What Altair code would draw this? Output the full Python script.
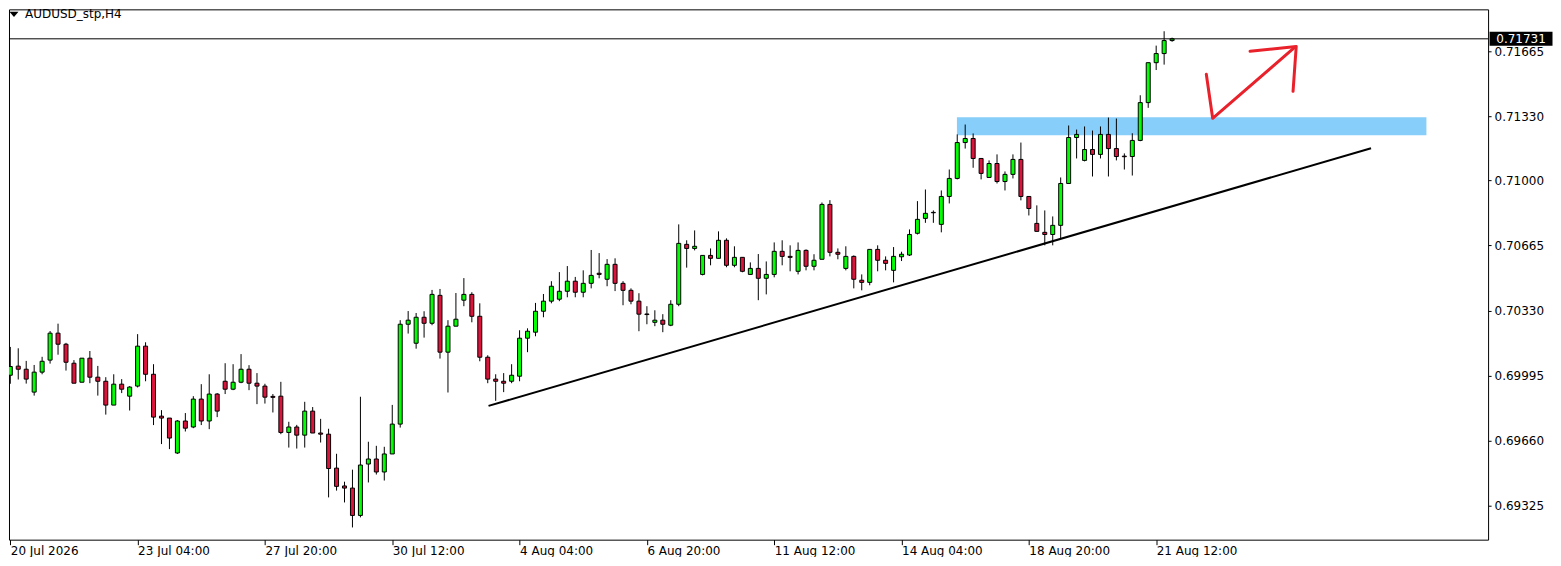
import json
import altair as alt
import pandas as pd

# ---------------- data (H4 candles, index = bar number) -------------
bar_index = list(range(147))

open_ = [
    0.69996, 0.70043, 0.70027, 0.69909, 0.70012, 0.70074, 0.70213, 0.70156, 0.70058, 0.69960,
    0.70084, 0.69986, 0.69965, 0.69842, 0.69950, 0.69888, 0.69940, 0.70146, 0.70001, 0.69785,
    0.69775, 0.69595, 0.69760, 0.69729, 0.69873, 0.69760, 0.69899, 0.69965, 0.69924, 0.69960,
    0.70027, 0.69955, 0.69940, 0.69887, 0.69888, 0.69701, 0.69729, 0.69687, 0.69811, 0.69698,
    0.69692, 0.69517, 0.69425, 0.69414, 0.69273, 0.69538, 0.69564, 0.69497, 0.69590, 0.69744,
    0.70259, 0.70161, 0.70295, 0.70264, 0.70408, 0.70115, 0.70249, 0.70383, 0.70413, 0.70300,
    0.70089, 0.69976, 0.69965, 0.69965, 0.69991, 0.70187, 0.70218, 0.70326, 0.70378, 0.70388,
    0.70429, 0.70481, 0.70424, 0.70470, 0.70522, 0.70491, 0.70568, 0.70470, 0.70434, 0.70378,
    0.70312, 0.70269, 0.70280, 0.70254, 0.70362, 0.70671, 0.70650, 0.70516, 0.70614, 0.70599,
    0.70692, 0.70563, 0.70604, 0.70516, 0.70547, 0.70496, 0.70516, 0.70635, 0.70609, 0.70532,
    0.70640, 0.70558, 0.70594, 0.70877, 0.70630, 0.70547, 0.70609, 0.70486, 0.70475, 0.70645,
    0.70589, 0.70537, 0.70607, 0.70616, 0.70728, 0.70805, 0.70836, 0.70774, 0.70918, 0.71011,
    0.71196, 0.71217, 0.71114, 0.71016, 0.71088, 0.70995, 0.71032, 0.71109, 0.70918, 0.70779,
    0.70733, 0.70722, 0.70769, 0.70985, 0.71222, 0.71104, 0.71160, 0.71135, 0.71238, 0.71165,
    0.71126, 0.71124, 0.71207, 0.71402, 0.71608, 0.71655, 0.71722]

high = [
    0.70142, 0.70135, 0.70070, 0.70049, 0.70091, 0.70224, 0.70262, 0.70163, 0.70074, 0.70084,
    0.70121, 0.70044, 0.69986, 0.70001, 0.69976, 0.69940, 0.70208, 0.70166, 0.70053, 0.69816,
    0.69775, 0.69765, 0.69801, 0.69888, 0.69950, 0.70001, 0.69904, 0.70058, 0.70053, 0.70105,
    0.70048, 0.70007, 0.69952, 0.69899, 0.69962, 0.69756, 0.69740, 0.69859, 0.69832, 0.69771,
    0.69720, 0.69591, 0.69447, 0.69509, 0.69885, 0.69653, 0.69632, 0.69627, 0.69843, 0.70280,
    0.70327, 0.70317, 0.70326, 0.70436, 0.70441, 0.70280, 0.70420, 0.70497, 0.70424, 0.70367,
    0.70099, 0.70001, 0.70007, 0.70053, 0.70228, 0.70238, 0.70369, 0.70415, 0.70481, 0.70528,
    0.70559, 0.70503, 0.70537, 0.70642, 0.70626, 0.70595, 0.70599, 0.70481, 0.70444, 0.70419,
    0.70352, 0.70331, 0.70311, 0.70383, 0.70774, 0.70692, 0.70743, 0.70614, 0.70650, 0.70738,
    0.70702, 0.70661, 0.70604, 0.70578, 0.70621, 0.70583, 0.70681, 0.70692, 0.70666, 0.70681,
    0.70645, 0.70620, 0.70887, 0.70899, 0.70650, 0.70661, 0.70614, 0.70516, 0.70645, 0.70666,
    0.70609, 0.70657, 0.70633, 0.70748, 0.70894, 0.70954, 0.70846, 0.70949, 0.71057, 0.71238,
    0.71289, 0.71243, 0.71114, 0.71104, 0.71135, 0.71047, 0.71135, 0.71196, 0.70918, 0.70872,
    0.70846, 0.70815, 0.71016, 0.71284, 0.71263, 0.71279, 0.71258, 0.71279, 0.71325, 0.71320,
    0.71140, 0.71244, 0.71440, 0.71608, 0.71696, 0.71770, 0.71737]

low = [
    0.69952, 0.69974, 0.69953, 0.69891, 0.70001, 0.70056, 0.70102, 0.70020, 0.69955, 0.69960,
    0.69955, 0.69891, 0.69793, 0.69842, 0.69904, 0.69814, 0.69933, 0.69965, 0.69739, 0.69641,
    0.69615, 0.69590, 0.69706, 0.69723, 0.69739, 0.69718, 0.69780, 0.69899, 0.69919, 0.69955,
    0.69919, 0.69847, 0.69850, 0.69804, 0.69692, 0.69623, 0.69618, 0.69623, 0.69698, 0.69649,
    0.69366, 0.69401, 0.69340, 0.69211, 0.69263, 0.69443, 0.69484, 0.69453, 0.69590, 0.69726,
    0.70211, 0.70133, 0.70190, 0.70254, 0.70082, 0.69907, 0.70249, 0.70352, 0.70269, 0.70068,
    0.69955, 0.69864, 0.69909, 0.69955, 0.69965, 0.70115, 0.70197, 0.70295, 0.70367, 0.70378,
    0.70398, 0.70398, 0.70398, 0.70444, 0.70496, 0.70455, 0.70430, 0.70357, 0.70362, 0.70223,
    0.70259, 0.70249, 0.70218, 0.70249, 0.70352, 0.70551, 0.70640, 0.70511, 0.70563, 0.70599,
    0.70553, 0.70553, 0.70527, 0.70516, 0.70383, 0.70413, 0.70501, 0.70563, 0.70532, 0.70516,
    0.70537, 0.70537, 0.70594, 0.70609, 0.70594, 0.70537, 0.70444, 0.70434, 0.70460, 0.70532,
    0.70537, 0.70475, 0.70585, 0.70611, 0.70722, 0.70782, 0.70782, 0.70733, 0.70882, 0.71006,
    0.71165, 0.71066, 0.71006, 0.71016, 0.70985, 0.70949, 0.71011, 0.70898, 0.70820, 0.70738,
    0.70666, 0.70666, 0.70702, 0.70985, 0.71114, 0.71099, 0.71021, 0.71114, 0.71021, 0.71104,
    0.71057, 0.71026, 0.71203, 0.71375, 0.71570, 0.71598, 0.71716]

close = [
    0.70041, 0.70027, 0.69976, 0.70012, 0.70068, 0.70213, 0.70156, 0.70063, 0.69955, 0.70084,
    0.69986, 0.69965, 0.69842, 0.69950, 0.69924, 0.69935, 0.70146, 0.70001, 0.69780, 0.69775,
    0.69672, 0.69760, 0.69723, 0.69873, 0.69760, 0.69899, 0.69811, 0.69924, 0.69960, 0.70027,
    0.69955, 0.69940, 0.69883, 0.69882, 0.69701, 0.69729, 0.69687, 0.69811, 0.69698, 0.69692,
    0.69515, 0.69423, 0.69414, 0.69273, 0.69533, 0.69564, 0.69497, 0.69590, 0.69744, 0.70259,
    0.70280, 0.70295, 0.70264, 0.70413, 0.70115, 0.70249, 0.70285, 0.70413, 0.70300, 0.70089,
    0.69976, 0.69965, 0.69955, 0.69996, 0.70187, 0.70223, 0.70326, 0.70378, 0.70455, 0.70429,
    0.70481, 0.70424, 0.70470, 0.70511, 0.70516, 0.70568, 0.70470, 0.70434, 0.70378, 0.70311,
    0.70309, 0.70280, 0.70259, 0.70362, 0.70676, 0.70650, 0.70661, 0.70614, 0.70599, 0.70692,
    0.70563, 0.70604, 0.70532, 0.70547, 0.70496, 0.70516, 0.70635, 0.70609, 0.70604, 0.70640,
    0.70558, 0.70589, 0.70877, 0.70630, 0.70620, 0.70609, 0.70491, 0.70475, 0.70645, 0.70589,
    0.70573, 0.70609, 0.70620, 0.70722, 0.70800, 0.70831, 0.70834, 0.70918, 0.71011, 0.71196,
    0.71217, 0.71114, 0.71037, 0.71088, 0.70995, 0.71032, 0.71109, 0.70918, 0.70856, 0.70738,
    0.70722, 0.70769, 0.70985, 0.71222, 0.71238, 0.71160, 0.71135, 0.71238, 0.71165, 0.71124,
    0.71123, 0.71207, 0.71402, 0.71608, 0.71655, 0.71722, 0.71731]

time_labels = ["20 Jul 2026", "23 Jul 04:00", "27 Jul 20:00", "30 Jul 12:00", "4 Aug 04:00",
               "6 Aug 20:00", "11 Aug 12:00", "14 Aug 04:00", "18 Aug 20:00", "21 Aug 12:00"]
time_label_bars = [0, 16, 32, 48, 64, 80, 96, 112, 128, 144]
price_ticks = [0.69325, 0.69660, 0.69995, 0.70330, 0.70665, 0.71000, 0.71330, 0.71665]
bid_price = [0.71731]
symbol_title = ["AUDUSD_stp,H4"]

trend_bar = [60.1, 171.0]
trend_price = [0.69838, 0.71167]

zone_bar = [118.96, 177.96]
zone_price = [0.71327, 0.71234]

arrow_stroke = [0, 0, 0, 1, 1, 1]
arrow_order = [0, 1, 2, 0, 1, 2]
arrow_bar = [150.3, 151.1, 161.4, 155.8, 161.6, 161.2]
arrow_price = [0.71548, 0.71321, 0.71687, 0.71667, 0.71692, 0.71460]

# ---------------- chart ----------------
W, H = 1481, 531
FONT = "DejaVu Sans"
xs = alt.Scale(domain=[-0.1625, 185.71], nice=False, zero=False, padding=0)
ys = alt.Scale(domain=[0.69148, 0.71883], nice=False, zero=False, padding=0)

candles = pd.DataFrame({"bar": bar_index, "open": open_, "high": high,
                        "low": low, "close": close})

label_expr = json.dumps(time_labels) + "[round(datum.value / 16)]"

x_axis = alt.Axis(values=time_label_bars, labelExpr=label_expr, orient="bottom",
                  labelAlign="left", labelOverlap=False, labelFlush=False,
                  tickSize=5, tickColor="black", domain=False, grid=False,
                  labelFont=FONT, labelFontSize=12, labelColor="black",
                  labelPadding=1, title=None)
y_axis = alt.Axis(values=price_ticks, format=".5f", orient="right",
                  tickSize=3, tickColor="black", domain=False, grid=False,
                  labelFont=FONT, labelFontSize=12, labelColor="black",
                  labelPadding=3, title=None, labelOverlap=False, labelFlush=False)


def X(field):
    return alt.X(field, type="quantitative", scale=xs, axis=x_axis)


def Y(field):
    return alt.Y(field, type="quantitative", scale=ys, axis=y_axis)


zone = alt.Chart(pd.DataFrame({"b1": [zone_bar[0]], "b2": [zone_bar[1]],
                               "p1": [zone_price[0]], "p2": [zone_price[1]]})).mark_rect(
    color="#87CEFA", clip=True).encode(x=X("b1"), x2="b2", y=Y("p1"), y2="p2")

trend = alt.Chart(pd.DataFrame({"bar": trend_bar, "price": trend_price})).mark_line(
    color="black", strokeWidth=2, clip=True).encode(x=X("bar"), y=Y("price"))

wicks = alt.Chart(candles).mark_rule(color="black", strokeWidth=1, clip=True).encode(
    x=X("bar"), y=Y("low"), y2="high")

bodies = alt.Chart(candles).mark_bar(size=4, stroke="black", strokeWidth=1, clip=True).encode(
    x=X("bar"), y=Y("open"), y2="close",
    color=alt.condition("datum.close > datum.open", alt.value("#00FF00"), alt.value("#DC143C")))

bid_df = pd.DataFrame({"p": bid_price, "t": ["%.5f" % bid_price[0]]})
bid_line = alt.Chart(bid_df).mark_rule(color="black", strokeWidth=1).encode(
    x=alt.value(0), x2=alt.value(W), y=Y("p"))
bid_box = alt.Chart(bid_df).mark_point(
    shape="M-1,-0.222L1,-0.222L1,0.222L-1,0.222Z", filled=True, color="black",
    size=3969, opacity=1, strokeWidth=0).encode(x=alt.value(W + 33), y=Y("p"))
bid_text = alt.Chart(bid_df).mark_text(
    font=FONT, fontSize=12, color="white", align="center", baseline="middle").encode(
    x=alt.value(W + 33), y=Y("p"), text="t:N")

arrow = alt.Chart(pd.DataFrame({"bar": arrow_bar, "price": arrow_price,
                                "s": arrow_stroke, "o": arrow_order})).mark_line(
    color="#E8212B", strokeWidth=3, strokeCap="round", strokeJoin="round", clip=True).encode(
    x=X("bar"), y=Y("price"), detail="s:N", order="o:Q")

title_df = pd.DataFrame({"t": symbol_title})
tri = alt.Chart(title_df).mark_point(
    shape="M-1,-0.6L1,-0.6L0,0.6Z", filled=True, color="black", size=81,
    opacity=1, strokeWidth=0).encode(x=alt.value(5), y=alt.value(5))
title_text = alt.Chart(title_df).mark_text(
    font=FONT, fontSize=12, color="black", align="left", baseline="middle").encode(
    x=alt.value(16), y=alt.value(5), text="t:N")

chart = alt.layer(zone, trend, wicks, bodies, bid_line, arrow, bid_box, bid_text,
                  tri, title_text).properties(
    width=W, height=H, padding={"left": 0, "top": 0, "right": 0, "bottom": 0},
    background="white").configure_view(stroke="black", strokeWidth=1)

chart.save("out.html", embed_options={"renderer": "svg", "actions": False})
